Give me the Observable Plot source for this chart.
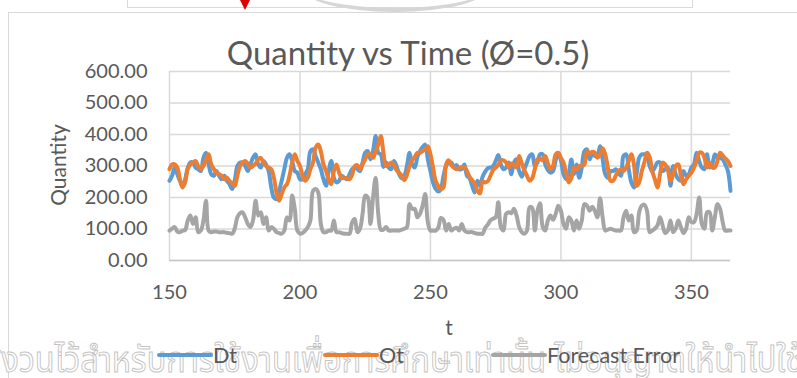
<!DOCTYPE html>
<html><head><meta charset="utf-8">
<script src="https://cdn.jsdelivr.net/npm/d3@7"></script>
<script src="https://cdn.jsdelivr.net/npm/@observablehq/plot@0.6"></script>
<style>
html,body{margin:0;padding:0;background:#fff;}
#root{position:relative;width:797px;height:378px;overflow:hidden;background:#fff;font-family:Lato,sans-serif;color:#595959;}
#root > svg{position:absolute;left:0;top:0;}
.deco{position:absolute;}
</style>
</head><body>
<div id="root">
  <div class="deco" style="left:127px;top:-10px;width:564px;height:17px;border:1.5px solid #D9D9D9;border-top:none;"></div>
  <div class="deco" style="left:300px;top:-40px;width:190px;height:48px;border-radius:50%;border-bottom:4px solid #D6D6D6;"></div>
  <div class="deco" style="left:8px;top:12px;width:800px;height:380px;border-left:1.5px solid #D9D9D9;border-top:1.5px solid #D9D9D9;"></div>
  <div class="deco" id="plotHolder" style="left:0;top:0;"></div>
  <svg id="overlay" width="797" height="378" style="position:absolute;left:0;top:0;"></svg>
</div>
<script>
const t = d3.range(150, 366);
const Dt = [
253,269,295,274,253,237,258,295,311,311,
295,290,284,326,342,305,274,269,284,269,
258,269,253,242,227,253,300,311,311,300,
284,305,326,337,305,295,316,305,284,232,
200,195,221,253,290,326,337,316,284,279,
258,258,274,290,347,353,332,311,290,258,
237,284,316,263,248,253,269,263,258,274,
290,295,290,284,311,342,347,321,347,395,
342,337,297,311,295,290,316,300,274,261,
269,300,342,305,295,329,347,360,368,321,
284,248,227,219,227,269,300,311,311,295,
303,290,290,305,269,261,237,216,253,237,
266,282,293,295,300,316,335,305,290,295,
311,274,311,321,284,266,290,311,332,337,
300,311,337,337,305,287,279,284,318,341,
318,274,258,274,321,274,305,263,295,347,
353,321,337,332,332,363,321,274,263,284,
284,290,279,269,332,337,290,248,232,274,
326,337,337,337,300,284,295,311,311,284,
290,295,237,300,274,258,253,284,269,274,
295,305,342,316,295,290,337,295,305,337,
326,326,321,305,284,221];
const Ot = [
290,305,305,295,258,232,248,290,305,311,
316,300,290,300,321,337,305,290,279,274,
269,258,263,253,245,237,269,300,311,316,
308,295,300,308,321,326,311,300,295,290,
263,216,190,211,232,242,269,311,337,316,
300,269,253,263,290,311,358,368,347,305,
284,258,242,284,305,279,263,261,261,258,
272,300,303,290,305,321,337,337,326,347,
368,395,342,300,305,311,305,287,279,269,
255,272,300,318,329,342,342,347,353,363,
337,295,253,237,227,232,305,318,303,295,
290,293,297,297,284,266,255,245,221,213,
251,248,252,269,287,295,303,318,318,311,
295,308,303,295,332,308,287,269,253,261,
290,321,324,318,332,308,290,300,337,342,
326,311,279,248,261,295,287,300,300,305,
347,339,345,342,326,337,356,337,295,253,
253,269,284,290,284,295,316,337,305,237,
248,284,311,342,329,284,258,232,274,311,
305,287,253,272,300,305,269,242,258,269,
279,295,316,342,342,326,295,311,295,295,
316,342,334,324,316,300];
const ForecastError = [
95,101,106,92,90,95,97,127,143,116,
137,90,95,127,190,95,90,92,92,90,
90,90,88,87,85,101,137,150,153,137,
116,106,127,190,143,153,116,137,95,106,
101,90,87,85,95,137,127,206,164,95,
85,87,95,106,127,221,227,216,116,90,
90,95,95,127,90,90,87,85,85,85,
122,132,90,101,148,206,200,116,200,263,
148,98,98,106,95,95,95,95,95,98,
101,106,179,164,164,137,148,174,211,122,
95,95,95,104,135,129,95,116,95,101,
104,95,116,95,90,90,90,87,85,85,
85,104,114,127,133,137,185,106,95,148,
153,150,164,143,106,90,85,95,169,167,
95,158,182,108,95,127,143,129,148,174,
158,116,101,137,127,95,127,101,127,179,
174,158,171,158,137,198,137,95,98,101,
98,95,95,95,137,158,127,143,90,95,
153,174,177,158,90,95,101,111,137,111,
87,95,127,90,101,127,106,87,101,137,
122,122,148,200,116,101,153,153,95,137,
179,164,122,95,95,95];
const xTicks = [150, 200, 250, 300, 350];
const yTicks = [0, 100, 200, 300, 400, 500, 600];
const seriesNames = ["Dt", "Ot", "Forecast Error"];
const seriesColors = ["#5B9BD5", "#ED7D31", "#A5A5A5"];
const titleText = "Quantity vs Time (Ø=0.5)";
const xLabel = "t";
const yLabel = "Quantity";
const watermark = "สงวนไว้สำหรับการใช้งานเพื่อการศึกษาเท่านั้น ไม่อนุญาตให้นำไปใช้ประโยชน์";

const rows = [];
const vals = [Dt, Ot, ForecastError];
seriesNames.forEach((s, k) => t.forEach((x, i) => rows.push({t: x, v: vals[k][i], s})));

const chart = Plot.plot({
  width: 797, height: 378,
  marginLeft: 169, marginRight: 67, marginTop: 71, marginBottom: 118,
  style: {fontFamily: "Lato, sans-serif", fontSize: "20px", color: "#595959", background: "transparent", overflow: "visible"},
  x: {domain: [150, 365]},
  y: {domain: [0, 600]},
  color: {domain: seriesNames, range: seriesColors},
  marks: [
    Plot.gridY(yTicks, {stroke: "#D9D9D9", strokeOpacity: 1, strokeWidth: 1.5}),
    Plot.gridX(xTicks, {stroke: "#D9D9D9", strokeOpacity: 1, strokeWidth: 1.5}),
    Plot.ruleY([0], {stroke: "#C8C8C8", strokeWidth: 1.5}),
    Plot.axisY(yTicks, {tickSize: 0, tickPadding: 22, tickFormat: d => d.toFixed(2), label: null, fill: "#595959"}),
    Plot.axisX(xTicks, {tickSize: 0, tickPadding: 24, tickFormat: d => String(d), label: null, fill: "#595959"}),
    Plot.line(rows, {x: "t", y: "v", z: "s", stroke: "s", strokeWidth: 4, curve: "catmull-rom", strokeLinejoin: "round", strokeLinecap: "round"})
  ]
});
document.getElementById("plotHolder").appendChild(chart);

const ov = d3.select("#overlay");
ov.append("text").attr("transform", "translate(-17,372) scale(0.9,1)").attr("font-family", "'Noto Sans Thai', 'Noto Sans', 'DejaVu Sans', sans-serif")
  .attr("font-size", 36).attr("fill", "#fff").attr("stroke", "#C4C4C4").attr("stroke-width", 1).text(watermark);
ov.append("text").attr("x", 408).attr("y", 65).attr("text-anchor", "middle").attr("font-size", 33).attr("fill", "#595959").text(titleText);
ov.append("text").attr("transform", "translate(66,165) rotate(-90)").attr("text-anchor", "middle").attr("font-size", 21).attr("fill", "#595959").text(yLabel);
ov.append("text").attr("x", 449).attr("y", 335).attr("text-anchor", "middle").attr("font-size", 21).attr("fill", "#595959").text(xLabel);
const legendX = [159, 325, 493];
seriesNames.forEach((s, k) => {
  ov.append("line").attr("x1", legendX[k]).attr("x2", legendX[k] + 52).attr("y1", 355).attr("y2", 355)
    .attr("stroke", seriesColors[k]).attr("stroke-width", 4).attr("stroke-linecap", "round");
  ov.append("text").attr("x", legendX[k] + 54).attr("y", 363).attr("font-size", 21.5).attr("fill", "#595959").text(s);
});
ov.append("path").attr("d", "M240,0 L250,0 L245,10 Z").attr("fill", "#E00000");
</script>
</body></html>
